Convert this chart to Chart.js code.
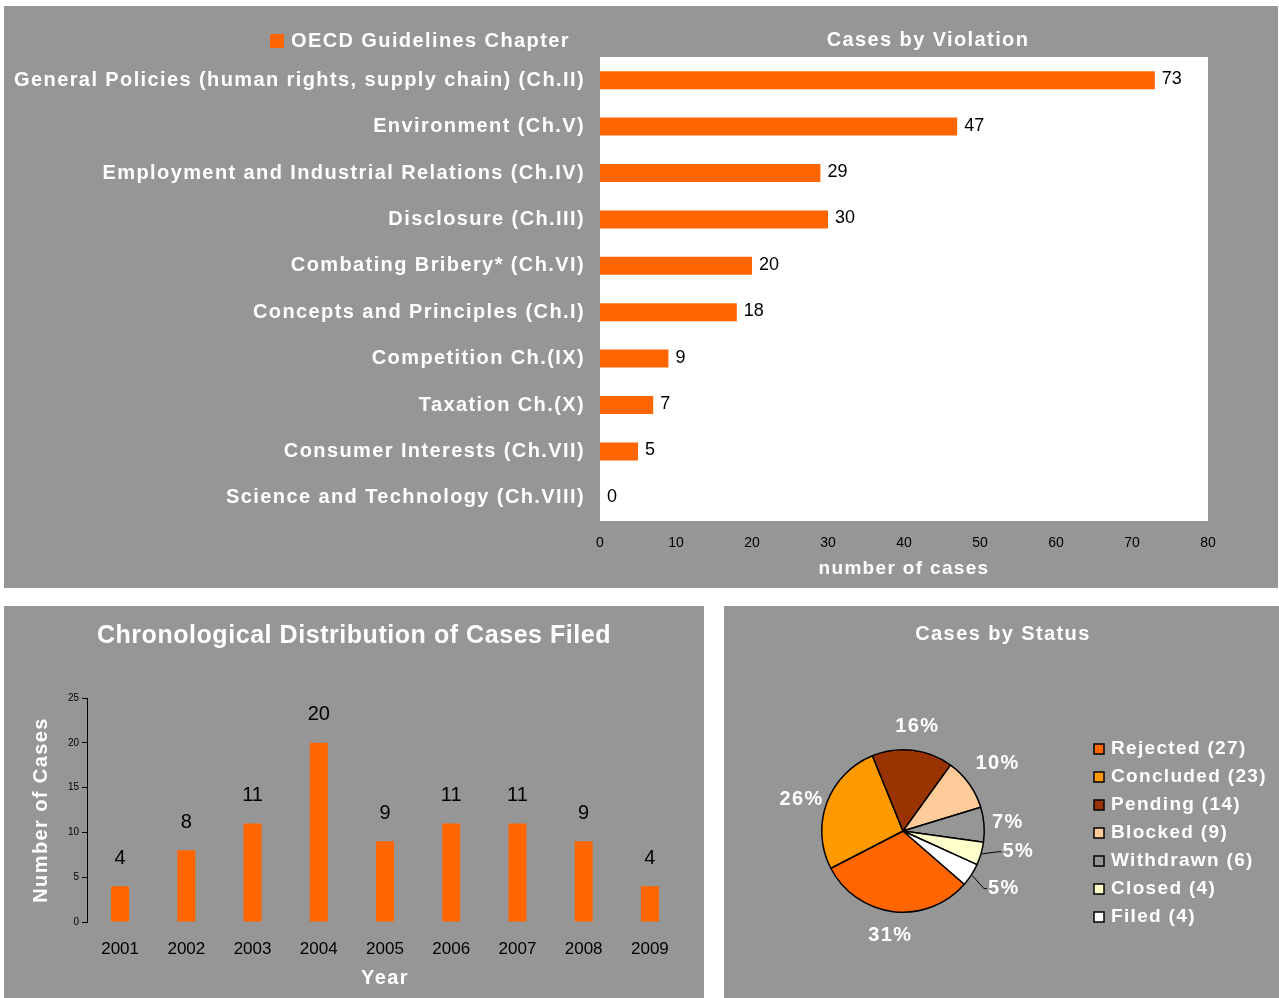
<!DOCTYPE html>
<html><head><meta charset="utf-8">
<script src="https://cdn.jsdelivr.net/npm/chart.js@4/dist/chart.umd.min.js"></script>
<style>
html,body{margin:0;padding:0;background:#fff;width:1279px;height:998px;overflow:hidden}
.panel{position:absolute;background:#969696}
#p1{left:4px;top:6px;width:1274px;height:582px}
#p2{left:4px;top:606px;width:700px;height:392px}
#p3{left:724px;top:606px;width:555px;height:392px}
canvas{display:block}
</style></head><body>
<div class="panel" id="p1"><canvas id="c1" width="1274" height="582"></canvas></div>
<div class="panel" id="p2"><canvas id="c2" width="700" height="392"></canvas></div>
<div class="panel" id="p3"><canvas id="c3" width="555" height="392"></canvas></div>
<script>
// ---------- data ----------
const violationCategories = [
  'General Policies (human rights, supply chain) (Ch.II)',
  'Environment (Ch.V)',
  'Employment and Industrial Relations (Ch.IV)',
  'Disclosure (Ch.III)',
  'Combating Bribery* (Ch.VI)',
  'Concepts and Principles (Ch.I)',
  'Competition Ch.(IX)',
  'Taxation Ch.(X)',
  'Consumer Interests (Ch.VII)',
  'Science and Technology (Ch.VIII)'
];
const violationCases = [73, 47, 29, 30, 20, 18, 9, 7, 5, 0];
const violationSeriesName = 'OECD Guidelines Chapter';

const years = ['2001','2002','2003','2004','2005','2006','2007','2008','2009'];
const casesFiled = [4, 8, 11, 20, 9, 11, 11, 9, 4];

const statusLabels = ['Rejected','Concluded','Pending','Blocked','Withdrawn','Closed','Filed'];
const statusCounts = [27, 23, 14, 9, 6, 4, 4];
const statusColors = ['#FF6600','#FF9900','#993300','#FFCC99','#969696','#FFFFCC','#FFFFFF'];

// ---------- text spacing helper ----------
const FONT = "'Liberation Sans', Arial, Helvetica, sans-serif";
window.__ls = null;
function spacingFor(font){
  if(!/bold/.test(font)) return '0px';
  const m = font.match(/(\d+(?:\.\d+)?)px/);
  const s = m ? parseFloat(m[1]) : 12;
  return (s*0.07).toFixed(2)+'px';
}
(function(){
  const P = CanvasRenderingContext2D.prototype;
  const oFill = P.fillText, oMeasure = P.measureText;
  P.fillText = function(t,x,y,w){
    if ('letterSpacing' in this) this.letterSpacing = (window.__ls!=null) ? window.__ls : spacingFor(this.font);
    return (w===undefined) ? oFill.call(this,t,x,y) : oFill.call(this,t,x,y,w);
  };
  P.measureText = function(t){
    if ('letterSpacing' in this) this.letterSpacing = (window.__ls!=null) ? window.__ls : spacingFor(this.font);
    return oMeasure.call(this,t);
  };
})();
function txt(ctx, s, x, y, o={}){
  const {size=20, bold=true, color='#fff', align='center', ls=null} = o;
  ctx.save();
  ctx.font = (bold?'bold ':'') + size + 'px ' + FONT;
  ctx.fillStyle = color; ctx.textAlign = align; ctx.textBaseline = 'middle';
  window.__ls = ls;
  ctx.fillText(s, x, y);
  window.__ls = null;
  ctx.restore();
}

Chart.defaults.font.family = FONT;
Chart.defaults.animation = false;
Chart.defaults.responsive = false;
Chart.defaults.plugins.legend.display = false;
Chart.defaults.plugins.tooltip.enabled = false;

// ---------- chart 1: cases by violation ----------
const topDecor = {
  id:'topDecor',
  beforeDraw(chart){
    const {ctx, chartArea:a} = chart;
    ctx.save(); ctx.fillStyle='#fff';
    ctx.fillRect(a.left, a.top, a.right-a.left, a.bottom-a.top);
    ctx.restore();
  },
  afterDatasetsDraw(chart){
    const ds = chart.data.datasets[0];
    chart.getDatasetMeta(0).data.forEach((bar,i)=>{
      txt(chart.ctx, String(ds.data[i]), bar.x+7, bar.y-1, {size:18,bold:false,color:'#000',align:'left'});
    });
  },
  afterDraw(chart){
    const ctx = chart.ctx;
    txt(ctx, 'Cases by Violation', 924, 34);
    ctx.save(); ctx.fillStyle = '#FF6600'; ctx.fillRect(266, 28, 14, 14); ctx.restore();
    txt(ctx, chart.data.datasets[0].label, 287, 35, {align:'left'});
  }
};
new Chart(document.getElementById('c1'), {
  type:'bar',
  data:{labels:violationCategories, datasets:[{label:violationSeriesName, data:violationCases, backgroundColor:'#FF6600', barThickness:18, borderWidth:0, inflateAmount:0}]},
  options:{
    indexAxis:'y',
    layout:{padding:{top:51, right:70, left:0, bottom:0}},
    scales:{
      x:{min:0, max:80,
         ticks:{stepSize:10, color:'#000', font:{size:14}, padding:14},
         grid:{display:false, drawTicks:false}, border:{display:false},
         title:{display:true, text:'number of cases', color:'#fff', font:{size:19, weight:'bold'}, padding:{top:0, bottom:8}},
         afterFit(s){ s.height = 67; }},
      y:{ticks:{color:'#fff', font:{size:20, weight:'bold'}, padding:15, autoSkip:false},
         grid:{display:false, drawTicks:false}, border:{display:false},
         afterFit(s){ s.width = 596; }}
    }
  },
  plugins:[topDecor]
});

// ---------- chart 2: chronological distribution ----------
const chronoDecor = {
  id:'chronoDecor',
  afterDatasetsDraw(chart){
    const ds = chart.data.datasets[0];
    chart.getDatasetMeta(0).data.forEach((bar,i)=>{
      txt(chart.ctx, String(ds.data[i]), bar.x, bar.y-28, {size:20,bold:false,color:'#000'});
    });
  },
  afterDraw(chart){
    txt(chart.ctx, 'Chronological Distribution of Cases Filed', 350, 30, {size:25, ls:'0.55px'});
  }
};
new Chart(document.getElementById('c2'), {
  type:'bar',
  data:{labels:years, datasets:[{data:casesFiled, backgroundColor:'#FF6600', barThickness:18, borderWidth:0, inflateAmount:0}]},
  options:{
    layout:{padding:{top:92, right:21, left:0, bottom:0}},
    scales:{
      x:{offset:true,
         ticks:{color:'#000', font:{size:17}, padding:17},
         grid:{display:false, drawTicks:false}, border:{display:false},
         title:{display:true, text:'Year', color:'#fff', font:{size:20, weight:'bold'}, padding:{top:0, bottom:8}},
         afterFit(s){ s.height = 76; }},
      y:{min:0, max:25,
         ticks:{stepSize:5, color:'#000', font:{size:10}, padding:3},
         grid:{drawOnChartArea:false, drawTicks:true, tickLength:5, color:'#000'},
         border:{display:true, color:'#000', width:1},
         title:{display:true, text:'Number of Cases', color:'#fff', font:{size:20, weight:'bold'}, padding:{top:25, bottom:0}},
         afterFit(s){ s.width = 83; }}
    }
  },
  plugins:[chronoDecor]
});

// ---------- chart 3: cases by status ----------
const labelDist = [24, 25, 24, 35, 24, 36, 35];
const labelShift = [0, -3, 1, 0, 0, -6, -3];
const leader = [false, false, false, false, false, true, true];
const pieDecor = {
  id:'pieDecor',
  afterDatasetsDraw(chart){
    const ctx = chart.ctx;
    const data = chart.data.datasets[0].data;
    const total = data.reduce((a,b)=>a+b,0);
    chart.getDatasetMeta(0).data.forEach((arc,i)=>{
      const mid = (arc.startAngle+arc.endAngle)/2;
      const ang = mid + labelShift[i]*Math.PI/180;
      const r = arc.outerRadius + labelDist[i];
      const lx = arc.x + Math.cos(ang)*r, ly = arc.y + Math.sin(ang)*r;
      const s = Math.round(data[i]/total*100)+'%';
      if (leader[i]) {
        ctx.save();
        ctx.strokeStyle = '#000'; ctx.lineWidth = 1;
        ctx.beginPath();
        ctx.moveTo(arc.x + Math.cos(mid)*(arc.outerRadius+1), arc.y + Math.sin(mid)*(arc.outerRadius+1));
        ctx.lineTo(lx - 20, ly);
        ctx.lineTo(lx - 17, ly);
        ctx.stroke();
        ctx.restore();
      }
      txt(ctx, s, lx, ly, {size:20});
    });
  },
  afterDraw(chart){
    const ctx = chart.ctx;
    txt(ctx, 'Cases by Status', 279, 28, {size:20});
    const ds = chart.data.datasets[0];
    chart.data.labels.forEach((lab,i)=>{
      const y = 143 + 28*i;
      ctx.save();
      ctx.fillStyle = ds.backgroundColor[i];
      ctx.fillRect(370, y-5, 10, 10);
      ctx.strokeStyle = '#000'; ctx.lineWidth = 1.5;
      ctx.strokeRect(370, y-5, 10, 10);
      ctx.restore();
      txt(ctx, lab + ' (' + ds.data[i] + ')', 387, y, {size:19, align:'left'});
    });
  }
};
new Chart(document.getElementById('c3'), {
  type:'pie',
  data:{labels:statusLabels, datasets:[{data:statusCounts, backgroundColor:statusColors, borderColor:'#000', borderWidth:1.5}]},
  options:{
    rotation:131,
    layout:{padding:{left:97, right:294, top:143, bottom:85}}
  },
  plugins:[pieDecor]
});
</script>
</body></html>
